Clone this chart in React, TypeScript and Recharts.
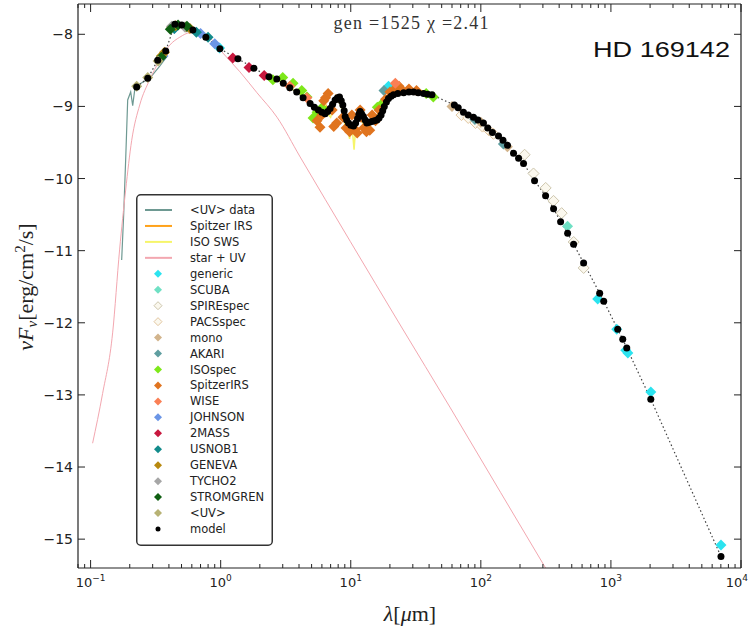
import React from "react";
import { ComposedChart, Line, Scatter, XAxis, YAxis, Legend } from "recharts";

type P = [number, number];

// wavelength in micron, log10(nu F_nu) in erg/cm2/s
const starUV: P[] = [
  [0.1036, -13.67], [0.1237, -12.98], [0.1477, -12.14], [0.167, -10.99], [0.186, -10.16],
  [0.207, -9.47], [0.2385, -8.98], [0.2847, -8.63], [0.34, -8.36], [0.406, -8.15],
  [0.485, -8.04], [0.579, -7.98], [0.691, -7.98], [0.826, -8.05], [1.04, -8.26],
  [1.405, -8.52], [1.9, -8.81], [2.71, -9.15], [4.08, -9.7], [9.9, -10.87],
  [24.0, -12.03], [58.3, -13.18], [141.6, -14.35], [314.6, -15.4],
];

const uvData: P[] = [
  [0.1733, -11.13], [0.1795, -10.51], [0.186, -9.74], [0.1928, -8.91], [0.2033, -8.8],
  [0.2107, -8.99], [0.2183, -8.77], [0.2385, -8.69], [0.2847, -8.61], [0.34, -8.44], [0.385, -8.31],
];

const spitzerIrsLine: P[] = [
  [5.2, -9.0], [5.6, -9.12], [6.0, -9.05], [6.2, -8.9], [6.5, -9.02], [7.0, -9.08], [7.4, -8.95],
  [7.7, -8.86], [8.0, -8.92], [8.3, -8.94], [8.6, -9.03], [9.0, -9.18], [9.5, -9.27], [10.0, -9.31],
  [10.5, -9.28], [11.0, -9.17], [11.3, -9.03], [11.7, -9.11], [12.3, -9.19], [13.0, -9.26],
  [14.0, -9.22], [15.0, -9.18], [16.0, -9.12], [17.0, -9.05], [18.0, -8.95], [19.5, -8.85],
  [21, -8.8], [24, -8.78], [27, -8.77], [30, -8.78], [34, -8.8], [37, -8.82],
];

const isoSwsLine: P[] = [
  [2.4, -8.58], [3, -8.68], [4, -8.82], [5, -8.95], [5.5, -9.05], [6, -9.0], [6.2, -8.9],
  [6.6, -9.1], [7, -9.15], [7.7, -8.92], [8.2, -8.95], [8.6, -9.05], [9.0, -9.25], [9.4, -9.3],
  [9.8, -9.45], [10.2, -9.25], [10.6, -9.6], [11.0, -9.2], [11.3, -9.05], [11.8, -9.15],
  [12.5, -9.25], [13.5, -9.3], [15, -9.2], [17, -9.05], [19, -8.9], [20, -8.7], [21, -8.85],
  [25, -8.78], [28, -8.72], [30, -8.8], [35, -8.78], [40, -8.82], [45, -8.85],
];

const generic: P[] = [
  [0.98, -8.19], [19.5, -8.72], [791, -11.67], [1109, -12.09], [1300, -12.38], [1350, -12.42],
  [2026, -12.96], [7015, -15.08],
];
const scuba: P[] = [[464, -10.66]];
const spireSpec: P[] = [
  [217, -9.67], [254, -9.93], [315, -10.13], [362, -10.31], [418, -10.48], [517, -10.88], [617, -11.24],
];
const pacsSpec: P[] = [[71, -9.12], [80, -9.16], [91, -9.23], [103, -9.28], [115, -9.33], [125, -9.38]];
const mono: P[] = [[60, -9.0], [100, -9.22], [160, -9.56]];
const akari: P[] = [[18, -8.78], [90, -9.18], [149, -9.52]];
const isoSpec: P[] = [
  [2.52, -8.63], [3.0, -8.6], [3.6, -8.68], [4.2, -8.78], [4.61, -8.87], [5.13, -9.16], [5.51, -9.08],
  [6.0, -9.02], [16.0, -9.01], [17, -8.98], [38, -8.82], [43.1, -8.87],
];
const spitzerIrs: P[] = [
  [5.5, -9.2], [5.8, -9.29], [6.0, -9.12], [6.2, -8.92], [6.4, -8.88], [6.7, -8.82], [7.2, -9.05],
  [7.4, -9.28], [7.8, -9.23], [8.7, -9.15], [9.2, -9.3], [9.8, -9.35], [10.2, -9.12], [10.8, -9.32],
  [11.2, -9.37], [11.8, -9.05], [12.0, -9.15], [12.6, -9.3], [13.2, -9.35], [14.0, -9.33],
  [14.6, -9.12], [15.5, -9.2], [16.5, -9.05], [18.5, -8.9], [20, -8.8], [22, -8.75], [23.5, -8.72],
  [25, -8.78], [28, -8.76], [32, -8.78],
];
const wise: P[] = [[3.4, -8.72], [4.6, -8.88], [12, -9.12], [22, -8.68]];
const johnson: P[] = [[0.36, -8.3], [0.44, -7.92], [0.55, -7.9], [0.7, -7.99], [0.9, -8.13]];
const twoMass: P[] = [[1.24, -8.33], [1.65, -8.46], [2.16, -8.57]];
const usnob1: P[] = [[0.44, -7.92], [0.65, -7.97], [0.8, -8.04]];
const geneva: P[] = [[0.35, -8.3], [0.37, -8.25], [0.42, -7.9], [0.45, -7.88], [0.54, -7.9], [0.58, -7.92]];
const tycho2: P[] = [[0.42, -7.89], [0.53, -7.9]];
const stromgren: P[] = [[0.35, -8.32], [0.41, -7.93], [0.47, -7.87], [0.55, -7.89]];
const uvPhot: P[] = [[0.226, -8.72], [0.275, -8.6], [0.33, -8.37]];

const model: P[] = [
  [0.226, -8.73], [0.275, -8.61], [0.328, -8.36], [0.378, -8.23], [0.444, -7.86], [0.502, -7.87],
  [0.611, -7.94], [0.769, -8.04], [0.986, -8.2], [1.357, -8.34], [1.8, -8.47], [2.35, -8.59],
  [2.7, -8.62], [3.03, -8.68], [3.4, -8.74], [3.84, -8.8], [4.3, -8.88], [4.87, -8.96], [5.25, -9.01],
  [5.64, -9.05], [6.0, -9.08], [6.35, -9.1], [6.65, -9.07], [6.94, -9.03], [7.25, -8.97], [7.58, -8.91],
  [7.9, -8.88], [8.19, -8.87], [8.45, -8.92], [8.69, -8.98], [8.9, -9.06], [9.06, -9.14], [9.3, -9.19],
  [9.6, -9.23], [10.0, -9.26], [10.5, -9.27], [10.9, -9.23], [11.27, -9.17], [11.55, -9.11],
  [11.8, -9.07], [12.1, -9.1], [12.5, -9.14], [12.9, -9.19], [13.3, -9.23], [13.9, -9.22],
  [14.5, -9.21], [15.2, -9.2], [15.9, -9.19], [16.5, -9.16], [17.1, -9.12], [17.6, -9.06],
  [18.1, -9.0], [18.8, -8.94], [19.5, -8.89], [20.4, -8.86], [21.3, -8.84], [23, -8.82],
  [25.5, -8.81], [28, -8.8], [30.4, -8.8], [33, -8.81], [36.3, -8.82], [39, -8.83], [42.1, -8.84],
  [62.6, -8.98], [67, -9.02], [73.5, -9.08], [80, -9.12], [87.7, -9.15], [95, -9.19], [104.7, -9.23],
  [113, -9.3], [122.8, -9.36], [136.7, -9.41], [148, -9.47], [160.4, -9.54], [178.3, -9.65],
  [195, -9.72], [212.9, -9.79], [258.8, -10.03], [314.6, -10.24], [362.4, -10.42], [410.4, -10.6],
  [464.7, -10.76], [516.6, -10.91], [616.6, -11.17], [819.6, -11.59], [880.4, -11.7], [1128, -12.09],
  [1233, -12.23], [1324, -12.35], [2026, -13.06], [7015, -15.24],
];

const xMajor = [0.1, 1, 10, 100, 1000, 10000];
const xMinor = [
  0.08, 0.09, 0.2, 0.3, 0.4, 0.5, 0.6, 0.7, 0.8, 0.9, 2, 3, 4, 5, 6, 7, 8, 9,
  20, 30, 40, 50, 60, 70, 80, 90, 200, 300, 400, 500, 600, 700, 800, 900,
  2000, 3000, 4000, 5000, 6000, 7000, 8000, 9000,
];
const xExp = ["\u22121", "0", "1", "2", "3", "4"];
const yTicks = [-8, -9, -10, -11, -12, -13, -14, -15];

const toXY = (pts: P[]) => pts.map(([x, y]) => ({ x, y }));

const lineSeries = [
  { name: "<UV> data", data: uvData, color: "#6e9992", width: 1.2 },
  { name: "Spitzer IRS", data: spitzerIrsLine, color: "#ffa21a", width: 2 },
  { name: "ISO SWS", data: isoSwsLine, color: "#f6f56a", width: 1.5 },
  { name: "star + UV", data: starUV, color: "#f3a7b0", width: 1 },
];

const markerSeries = [
  { name: "generic", data: generic, color: "#2be3ef", open: false },
  { name: "SCUBA", data: scuba, color: "#6fe0c4", open: false },
  { name: "SPIREspec", data: spireSpec, color: "#cdc6ad", open: true },
  { name: "PACSspec", data: pacsSpec, color: "#e2c6a0", open: true },
  { name: "mono", data: mono, color: "#d2b48c", open: false },
  { name: "AKARI", data: akari, color: "#5f9ea0", open: false },
  { name: "ISOspec", data: isoSpec, color: "#7ee81a", open: false },
  { name: "SpitzerIRS", data: spitzerIrs, color: "#e0741f", open: false },
  { name: "WISE", data: wise, color: "#fa7f55", open: false },
  { name: "JOHNSON", data: johnson, color: "#6b95e6", open: false },
  { name: "2MASS", data: twoMass, color: "#c8183e", open: false },
  { name: "USNOB1", data: usnob1, color: "#128b8b", open: false },
  { name: "GENEVA", data: geneva, color: "#b8890f", open: false },
  { name: "TYCHO2", data: tycho2, color: "#a6a6a6", open: false },
  { name: "STROMGREN", data: stromgren, color: "#0f5f12", open: false },
  { name: "<UV>", data: uvPhot, color: "#b7b274", open: false },
];

const AX = "#222";

const diamond = (color: string, open: boolean, h = 5.5) => (props: any) => {
  const { cx, cy } = props;
  if (cx == null || cy == null) return <g />;
  return (
    <polygon
      points={`${cx},${cy - h} ${cx + h},${cy} ${cx},${cy + h} ${cx - h},${cy}`}
      fill={open ? "#fbf8ee" : color}
      stroke={open ? color : "none"}
      strokeWidth={1}
    />
  );
};

const dotShape = (props: any) => {
  const { cx, cy } = props;
  if (cx == null || cy == null) return <g />;
  return <circle cx={cx} cy={cy} r={3.5} fill="#000" />;
};

const BottomTick = (props: any) => {
  const { x, y, payload } = props;
  const i = xMajor.indexOf(payload.value);
  const len = i >= 0 ? 8 : 4;
  const last = i === xMajor.length - 1;
  return (
    <g>
      <line x1={x} x2={x} y1={y} y2={y - len} stroke={AX} />
      {i >= 0 && (
        <text
          x={last ? 748 : x} y={y + 19} textAnchor={last ? "end" : "middle"}
          fontFamily="DejaVu Sans" fontSize={13} fill="#222"
        >
          10<tspan dy={-6} fontSize={9}>{xExp[i]}</tspan>
        </text>
      )}
    </g>
  );
};

const TopTick = (props: any) => {
  const { x, y, payload } = props;
  const len = xMajor.includes(payload.value) ? 8 : 4;
  return <line x1={x} x2={x} y1={y} y2={y + len} stroke={AX} />;
};

const LeftTick = (props: any) => {
  const { x, y, payload } = props;
  return (
    <g>
      <line x1={x} x2={x + 7} y1={y} y2={y} stroke={AX} />
      <text x={x - 5} y={y} dy="0.36em" textAnchor="end" fontFamily="DejaVu Sans" fontSize={14} fill="#222">
        {"\u2212" + Math.abs(payload.value)}
      </text>
    </g>
  );
};

const RightTick = (props: any) => {
  const { x, y } = props;
  return <line x1={x} x2={x - 7} y1={y} y2={y} stroke={AX} />;
};

const LegendBox = () => {
  const rowY = (i: number) => 16 + i * 15.95;
  const labelStyle = { fontFamily: "DejaVu Sans", fontSize: 11.5, fill: "#222" };
  return (
    <svg width={137} height={352} style={{ display: "block" }}>
      <rect x={0.75} y={0.75} width={135.5} height={350.5} rx={4} fill="#fff" stroke="#333" strokeWidth={1.5} />
      {lineSeries.map((s, i) => (
        <g key={s.name}>
          <line x1={9} x2={36} y1={rowY(i)} y2={rowY(i)} stroke={s.color} strokeWidth={2} />
          <text x={54} y={rowY(i)} dy="0.35em" {...labelStyle}>{s.name}</text>
        </g>
      ))}
      {markerSeries.map((s, j) => {
        const i = j + lineSeries.length;
        const D = diamond(s.color, s.open, 4);
        return (
          <g key={s.name}>
            <D cx={22} cy={rowY(i)} />
            <text x={54} y={rowY(i)} dy="0.35em" {...labelStyle}>{s.name}</text>
          </g>
        );
      })}
      <circle cx={22} cy={rowY(20)} r={2.5} fill="#000" />
      <text x={54} y={rowY(20)} dy="0.35em" {...labelStyle}>model</text>
    </svg>
  );
};

export default function App() {
  return (
    <div style={{ position: "absolute", left: 0, top: 0, width: 750, height: 628, background: "#fff" }}>
      <ComposedChart width={750} height={628} margin={{ top: 3, right: 8, bottom: 59, left: 77 }}>
        <XAxis
          dataKey="x" type="number" scale="log" domain={[0.08, 10000]} allowDataOverflow
          ticks={[...xMajor, ...xMinor]} interval={0} tickSize={0} tickMargin={0} height={1}
          tick={<BottomTick />} axisLine={{ stroke: AX, strokeWidth: 1.2 }}
        />
        <XAxis
          xAxisId="top" orientation="top" dataKey="x" type="number" scale="log" domain={[0.08, 10000]}
          allowDataOverflow ticks={[...xMajor, ...xMinor]} interval={0} tickSize={0} tickMargin={0}
          height={1} tick={<TopTick />} axisLine={{ stroke: AX, strokeWidth: 1.2 }}
        />
        <YAxis
          dataKey="y" type="number" domain={[-15.4, -7.58]} allowDataOverflow ticks={yTicks} interval={0}
          tickSize={0} tickMargin={0} width={1} tick={<LeftTick />} axisLine={{ stroke: AX, strokeWidth: 1.2 }}
        />
        <YAxis
          yAxisId="right" orientation="right" type="number" domain={[-15.4, -7.58]} allowDataOverflow
          ticks={yTicks} interval={0} tickSize={0} tickMargin={0} width={1} tick={<RightTick />}
          axisLine={{ stroke: AX, strokeWidth: 1.2 }}
        />
        {lineSeries.map((s) => (
          <Line
            key={s.name} data={toXY(s.data)} dataKey="y"
            type={s.name === "star + UV" ? "monotone" : "linear"} stroke={s.color}
            strokeWidth={s.width} dot={false} isAnimationActive={false}
          />
        ))}
        <Line
          data={toXY(model)} dataKey="y" type="linear" stroke="#444" strokeWidth={1.2}
          strokeDasharray="1.5 2.5" dot={false} isAnimationActive={false}
        />
        {markerSeries.map((s) => (
          <Scatter key={s.name} data={toXY(s.data)} shape={diamond(s.color, s.open)} isAnimationActive={false} />
        ))}
        <Scatter data={toXY(model)} shape={dotShape} isAnimationActive={false} />
        <Legend
          layout="horizontal" verticalAlign="middle" align="center"
          wrapperStyle={{ left: 136, top: 194, width: 137, height: 352 }}
          content={() => <LegendBox />}
        />
      </ComposedChart>
      <svg width={750} height={628} style={{ position: "absolute", left: 0, top: 0, pointerEvents: "none" }}>
        <text x={411} y={29} textAnchor="middle" fontFamily="Liberation Serif" fontSize={18} fill="#333" textLength={155}>
          gen =1525 {"\u03c7"} =2.41
        </text>
        <text x={593} y={57} fontFamily="Liberation Sans" fontSize={22} fill="#111" textLength={137} lengthAdjust="spacingAndGlyphs">
          HD 169142
        </text>
        <text x={410} y={621} textAnchor="middle" fontFamily="Liberation Serif" fontSize={22} fill="#222">
          <tspan fontStyle="italic">{"\u03bb"}</tspan>[<tspan fontStyle="italic">{"\u03bc"}</tspan>m]
        </text>
        <text transform="translate(33,287) rotate(-90)" textAnchor="middle" fontFamily="Liberation Serif" fontSize={22} fill="#222">
          <tspan fontStyle="italic">{"\u03bdF"}</tspan>
          <tspan fontStyle="italic" fontSize={15} dy={4}>{"\u03bd"}</tspan>
          <tspan dy={-4}>[erg/cm</tspan>
          <tspan fontSize={15} dy={-8}>2</tspan>
          <tspan dy={8}>/s]</tspan>
        </text>
      </svg>
    </div>
  );
}
